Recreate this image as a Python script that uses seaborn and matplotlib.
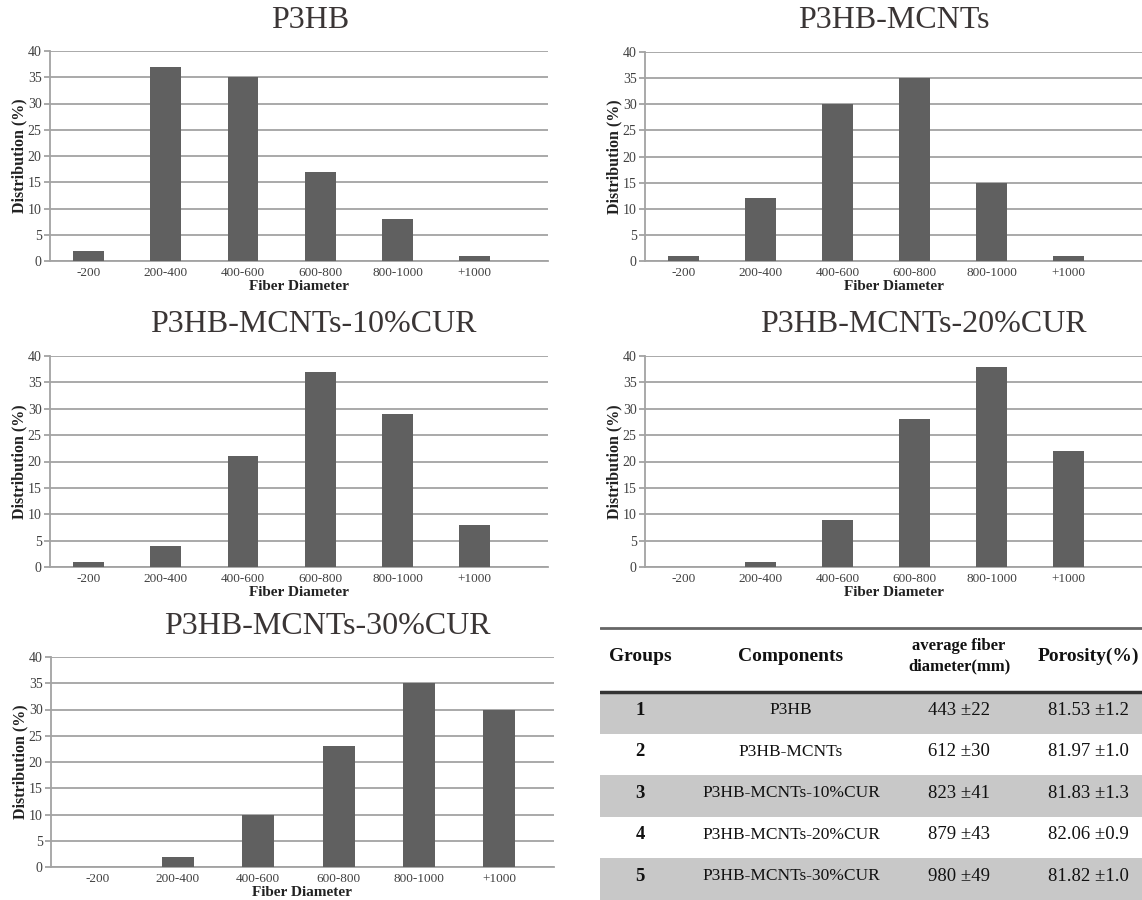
import matplotlib
matplotlib.use("Agg")
import matplotlib.pyplot as plt
import seaborn as sns
import pandas as pd

# ---------------- data ----------------
categories = ["-200", "200-400", "400-600", "600-800", "800-1000", "+1000"]
p3hb = [2, 37, 35, 17, 8, 1]
p3hb_mcnts = [1, 12, 30, 35, 15, 1]
p3hb_mcnts_10cur = [1, 4, 21, 37, 29, 8]
p3hb_mcnts_20cur = [0, 1, 9, 28, 38, 22]
p3hb_mcnts_30cur = [0, 2, 10, 23, 35, 30]
titles = ["P3HB", "P3HB-MCNTs", "P3HB-MCNTs-10%CUR", "P3HB-MCNTs-20%CUR", "P3HB-MCNTs-30%CUR"]
y_ticks = [0, 5, 10, 15, 20, 25, 30, 35, 40]

table_header = ["Groups", "Components", "average fiber\ndiameter(mm)", "Porosity(%)"]
groups = ["1", "2", "3", "4", "5"]
components = ["P3HB", "P3HB-MCNTs", "P3HB-MCNTs-10%CUR", "P3HB-MCNTs-20%CUR", "P3HB-MCNTs-30%CUR"]
avg_diameter = ["443 \u00b122", "612 \u00b130", "823 \u00b141", "879 \u00b143", "980 \u00b149"]
porosity = ["81.53 \u00b11.2", "81.97 \u00b11.0", "81.83 \u00b11.3", "82.06 \u00b10.9", "81.82 \u00b11.0"]

series = [p3hb, p3hb_mcnts, p3hb_mcnts_10cur, p3hb_mcnts_20cur, p3hb_mcnts_30cur]

# ---------------- style ----------------
sns.set_theme(style="white")
plt.rcParams["font.family"] = ["Liberation Serif", "DejaVu Serif"]

W, H = 1142, 900
fig = plt.figure(figsize=(W / 100, H / 100), dpi=100)

def px_axes(l, t, r, b):
    return fig.add_axes([l / W, 1 - b / H, (r - l) / W, (b - t) / H])

boxes = [
    (50, 51, 548, 261),
    (645, 52, 1142, 261),
    (50, 356, 548, 567),
    (645, 356, 1142, 567),
    (51, 657, 554, 867),
]
xlims = [(-0.5, 5.95), (-0.5, 5.95), (-0.5, 5.95), (-0.5, 5.95), (-0.58, 5.68)]
title_x = [0.522, 0.50, 0.528, 0.56, 0.55]

bar_color = "#606060"
grid_color = "#a3a3a3"
text_gray = "#404040"

for vals, title, box, tx, xl in zip(series, titles, boxes, title_x, xlims):
    ax = px_axes(*box)
    df = pd.DataFrame({"cat": categories, "val": vals})
    sns.barplot(data=df, x="cat", y="val", color=bar_color, width=0.4,
                saturation=1, ax=ax, zorder=3, linewidth=0, edgecolor=bar_color)
    ax.set_xlim(*xl)
    ax.set_ylim(0, 40)
    ax.set_yticks(y_ticks)
    ax.yaxis.grid(True, color=grid_color, lw=1.3, zorder=0)
    ax.set_axisbelow(True)
    for s in ["top", "right"]:
        ax.spines[s].set_visible(False)
    for s in ["left", "bottom"]:
        ax.spines[s].set_color(grid_color)
        ax.spines[s].set_linewidth(1.3)
    ax.tick_params(axis="y", length=4, width=1.3, color=grid_color,
                   labelsize=10, labelcolor=text_gray, pad=2, left=True)
    ax.tick_params(axis="x", length=0, labelsize=9.5, labelcolor=text_gray, pad=4)
    ax.set_xlabel("Fiber Diameter", fontsize=11, fontweight="bold", color="#222222", labelpad=1)
    ax.set_ylabel("Distribution (%)", fontsize=11.5, fontweight="bold", color="#222222", labelpad=0)
    ax.text(tx, 1.0 + 31 / (box[3] - box[1]), title, transform=ax.transAxes,
            ha="center", va="center", fontsize=23, color="#3a3535")

# ---------------- table ----------------
tax = px_axes(600, 620, 1142, 900)
tax.set_xlim(600, 1142)
tax.set_ylim(900, 620)
tax.axis("off")

col_x = [640, 791, 959, 1088]
header_y = 656
row_top0 = 692
row_h = 41.6
tax.axhline(628, color="#666666", lw=2)
for i, (g, c, d, p) in enumerate(zip(groups, components, avg_diameter, porosity)):
    top = row_top0 + i * row_h
    if i % 2 == 0:
        tax.axhspan(top, top + row_h, color="#c8c8c8", lw=0, zorder=0)
    ty = top + 18
    tax.text(col_x[0], ty, g, ha="center", va="center", fontsize=13.5, fontweight="bold", color="#111111")
    tax.text(col_x[1], ty, c, ha="center", va="center", fontsize=12.5, color="#111111")
    tax.text(col_x[2], ty, d, ha="center", va="center", fontsize=13.5, color="#111111")
    tax.text(col_x[3], ty, p, ha="center", va="center", fontsize=13.5, color="#111111")
tax.axhline(row_top0, color="#333333", lw=2.5, zorder=3)

tax.text(col_x[0], header_y, table_header[0], ha="center", va="center", fontsize=14, fontweight="bold", color="#111111")
tax.text(col_x[1], header_y, table_header[1], ha="center", va="center", fontsize=14, fontweight="bold", color="#111111")
tax.text(col_x[2], header_y, table_header[2], ha="center", va="center", fontsize=12, fontweight="bold",
         color="#111111", linespacing=1.35)
tax.text(col_x[3], header_y, table_header[3], ha="center", va="center", fontsize=14, fontweight="bold", color="#111111")

fig.savefig("out.png", dpi=100)
